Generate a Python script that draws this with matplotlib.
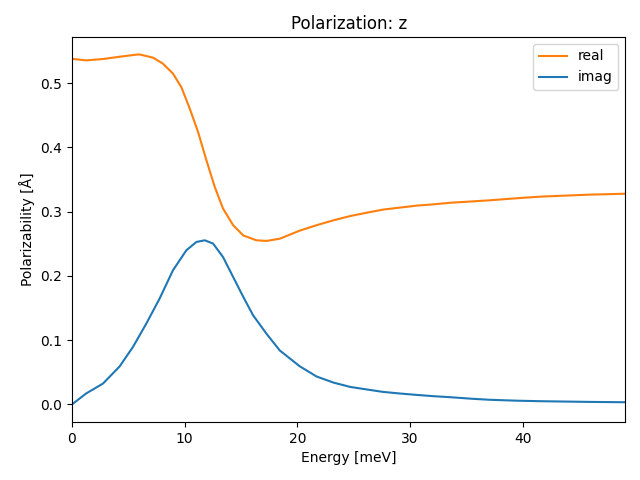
import matplotlib
matplotlib.use("Agg")
import matplotlib.pyplot as plt
import numpy as np


# values
energy_real = np.array([
    0.0, 1.25, 2.75, 4.2, 5.7, 6.0, 7.2, 8.07, 8.96, 9.7, 10.44, 11.19,
    11.93, 12.67, 13.4, 14.3, 15.2, 16.37, 17.26, 18.44, 20.2, 21.7, 23.2,
    24.7, 26.2, 27.6, 29.1, 30.6, 32.1, 33.6, 35.5, 37.1, 39.5, 41.6, 44.0,
    46.0, 49.1,
])
alpha_real = np.array([
    0.538, 0.5356, 0.5377, 0.5412, 0.5445, 0.5448, 0.5398, 0.5305, 0.515,
    0.494, 0.461, 0.424, 0.380, 0.3385, 0.305, 0.279, 0.263, 0.2555,
    0.2545, 0.258, 0.2705, 0.279, 0.2866, 0.2933, 0.2986, 0.3033, 0.3064,
    0.3095, 0.3115, 0.314, 0.316, 0.3178, 0.321, 0.3235, 0.3252, 0.3266,
    0.328,
])

energy_imag = np.array([
    0.0, 1.25, 2.75, 4.22, 5.41, 6.6, 7.78, 8.96, 10.15, 11.04, 11.78,
    12.52, 13.4, 14.3, 15.2, 16.07, 17.26, 18.44, 20.2, 21.7, 23.2, 24.7,
    26.2, 27.6, 29.1, 30.6, 32.1, 33.6, 35.5, 37.1, 39.5, 41.6, 44.0, 46.0,
    49.1,
])
alpha_imag = np.array([
    0.0, 0.017, 0.0325, 0.059, 0.0895, 0.126, 0.165, 0.2088, 0.240,
    0.2529, 0.2555, 0.2504, 0.2295, 0.1984, 0.1673, 0.1388, 0.110, 0.084,
    0.0595, 0.0435, 0.034, 0.0272, 0.0232, 0.0195, 0.017, 0.0148, 0.0128,
    0.0112, 0.0088, 0.0072, 0.0058, 0.005, 0.0044, 0.0039, 0.0034,
])

fig, ax = plt.subplots(figsize=(6.4, 4.8), dpi=100)

ax.plot(energy_real, alpha_real, color="C1", label="real")
ax.plot(energy_imag, alpha_imag, color="C0", label="imag")

ax.set_xlim(0, energy_real.max())
ax.set_title("Polarization: z")
ax.set_xlabel("Energy [meV]")
ax.set_ylabel("Polarizability [Å]")
ax.legend(loc="upper right")

fig.subplots_adjust(left=0.1125, right=0.977, top=0.923, bottom=0.121)
fig.savefig("out.png")
